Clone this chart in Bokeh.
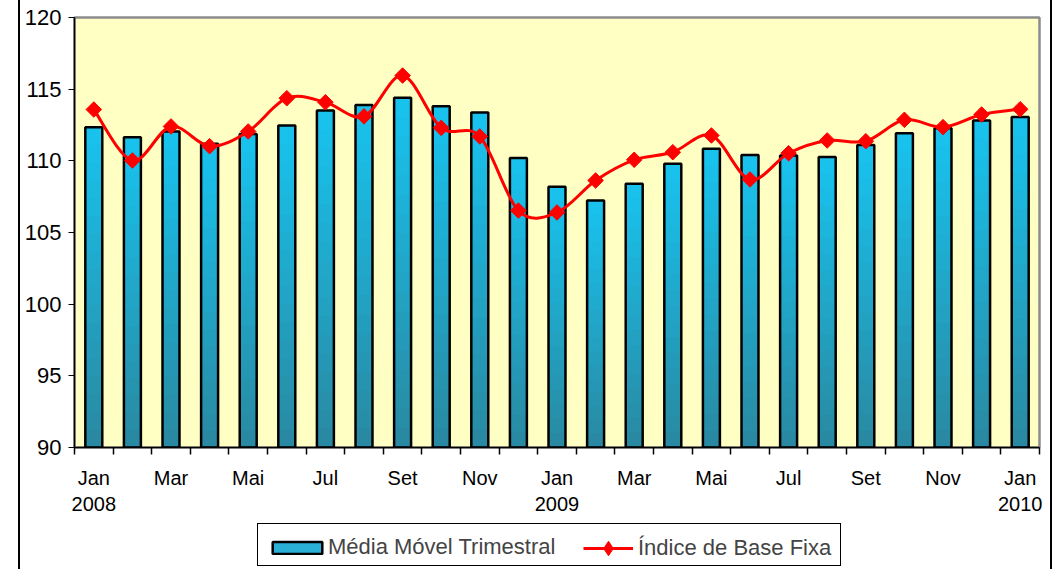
import numpy as np
from bokeh.plotting import figure
from bokeh.layouts import column
from bokeh.models import Range1d, FixedTicker, Legend, LegendItem
from bokeh.embed import file_html
from bokeh.resources import INLINE

# ---- data ----
months = ["Jan", "Fev", "Mar", "Abr", "Mai", "Jun", "Jul", "Ago", "Set", "Out", "Nov", "Dez",
          "Jan", "Fev", "Mar", "Abr", "Mai", "Jun", "Jul", "Ago", "Set", "Out", "Nov", "Dez",
          "Jan"]
media_movel = [112.35, 111.65, 112.05, 111.19, 111.88, 112.47, 113.51, 113.9, 114.4, 113.8,
               113.37, 110.2, 108.2, 107.23, 108.4, 109.79, 110.84, 110.4, 110.37, 110.26,
               111.1, 111.93, 112.28, 112.81, 113.05]
indice_base = [113.58, 110.02, 112.4, 111.02, 112.05, 114.37, 114.09, 113.1, 115.95, 112.3,
               111.7, 106.53, 106.4, 108.63, 110.07, 110.6, 111.77, 108.7, 110.53, 111.42,
               111.37, 112.86, 112.35, 113.23, 113.6]
tick_labels = ["Jan\n2008", "Mar", "Mai", "Jul", "Set", "Nov", "Jan\n2009", "Mar", "Mai",
               "Jul", "Set", "Nov", "Jan\n2010"]
y_ticks = [90, 95, 100, 105, 110, 115, 120]
series_names = ["Média Móvel Trimestral", "Índice de Base Fixa"]

n = len(months)
xc = np.arange(n) + 0.5
BASE = 90
FONT = "Liberation Sans"
BAR_W = 0.44
RED = "#FF0000"

W = 1058
H1, H2 = 520, 49
outer_lines = ("linear-gradient(#000,#000) 18px 0 / 2px 100% no-repeat, "
               "linear-gradient(#000,#000) 1050px 0 / 2px 100% no-repeat")
legend_box = ("linear-gradient(#000,#000) 257px 3px / 584px 1px no-repeat, "
              "linear-gradient(#000,#000) 257px 45px / 584px 1px no-repeat, "
              "linear-gradient(#000,#000) 257px 3px / 1px 43px no-repeat, "
              "linear-gradient(#000,#000) 840px 3px / 1px 43px no-repeat")

p = figure(width=W, height=H1, output_backend="svg", toolbar_location=None,
           x_range=Range1d(0, n), y_range=Range1d(90, 120),
           min_border_left=74, min_border_right=19, min_border_top=17,
           min_border_bottom=H1 - 447)
p.background_fill_color = "#FFFFC4"
p.border_fill_alpha = 0
p.styles = {"background": outer_lines + ", #ffffff"}
p.outline_line_color = "#8C8C8C"
p.outline_line_width = 2.5
p.xgrid.visible = False
p.ygrid.visible = False

# ---- bars with vertical gradient (overlapping segments, no seams) ----
nseg = 18
c_bot = np.array([0x2A, 0x88, 0xA0])
c_top = np.array([0x18, 0xC4, 0xF0])
L, R, B, T, C = [], [], [], [], []
for k in range(nseg):
    f = (k + 0.5) / nseg
    col = "#%02x%02x%02x" % tuple((c_bot + (c_top - c_bot) * f).astype(int))
    for i in range(n):
        h = media_movel[i] - BASE
        L.append(xc[i] - BAR_W / 2)
        R.append(xc[i] + BAR_W / 2)
        B.append(BASE + h * k / nseg)
        T.append(media_movel[i])
        C.append(col)
p.quad(left=L, right=R, bottom=B, top=T, fill_color=C, line_color=None)
p.vbar(x=xc, top=media_movel, bottom=BASE, width=BAR_W, fill_color=None,
       line_color="black", line_width=2.5)

# ---- smoothed line (Bezier segments through the data points) ----
yv = np.array(indice_base)
ext = np.concatenate([[yv[0]], yv, [yv[-1]]])
xext = np.concatenate([[xc[0]], xc, [xc[-1]]])
x0, y0 = xc[:-1], yv[:-1]
x1, y1 = xc[1:], yv[1:]
cx0 = x0 + (xext[2:-1] - xext[:-3]) / 6.0
cy0 = y0 + (ext[2:-1] - ext[:-3]) / 6.0
cx1 = x1 - (xext[3:] - xext[1:-2]) / 6.0
cy1 = y1 - (ext[3:] - ext[1:-2]) / 6.0
p.bezier(x0=x0, y0=y0, x1=x1, y1=y1, cx0=cx0, cy0=cy0, cx1=cx1, cy1=cy1,
         line_color=RED, line_width=3)
p.scatter(x=xc, y=indice_base, marker="square", size=11, angle=np.pi / 4,
          fill_color=RED, line_color=RED)

# ---- axes ----
p.yaxis.ticker = FixedTicker(ticks=y_ticks)
p.yaxis.major_tick_out = 6
p.yaxis.major_tick_in = 0
p.yaxis.minor_tick_out = 0
p.yaxis.minor_tick_in = 0
p.yaxis.major_label_text_font = FONT
p.yaxis.major_label_text_font_size = "22px"
p.yaxis.major_label_text_color = "black"
p.yaxis.major_label_standoff = 7
p.yaxis.axis_line_color = "black"
p.yaxis.axis_line_width = 1.5
p.yaxis.major_tick_line_color = "black"

label_pos = [float(xc[i]) for i in range(0, n, 2)]
p.xaxis.ticker = FixedTicker(ticks=label_pos, minor_ticks=list(range(0, n + 1)))
p.xaxis.major_label_overrides = {pos: lab for pos, lab in zip(label_pos, tick_labels)}
p.xaxis.major_tick_out = 0
p.xaxis.major_tick_in = 0
p.xaxis.minor_tick_out = 7
p.xaxis.minor_tick_in = 0
p.xaxis.minor_tick_line_color = "black"
p.xaxis.minor_tick_line_width = 1.5
p.xaxis.axis_line_color = "black"
p.xaxis.axis_line_width = 1.5
p.xaxis.major_label_text_font = FONT
p.xaxis.major_label_text_font_size = "20px"
p.xaxis.major_label_text_color = "black"
p.xaxis.major_label_standoff = 12

# ---- legend strip ----
lg = figure(width=W, height=H2, output_backend="svg", toolbar_location=None,
            x_axis_location=None, y_axis_location=None,
            x_range=Range1d(0, 1), y_range=Range1d(0, 1),
            min_border_left=74, min_border_right=19, min_border_top=0,
            min_border_bottom=0)
lg.background_fill_alpha = 0
lg.border_fill_alpha = 0
lg.styles = {"background": legend_box + ", " + outer_lines + ", #ffffff"}
lg.outline_line_color = None
lg.xgrid.visible = False
lg.ygrid.visible = False

# proxies drawn from the data, which lies outside this strip's ranges (not visible)
bar_proxy = lg.quad(left=xc - BAR_W / 2, right=xc + BAR_W / 2, bottom=BASE, top=media_movel,
                    fill_color="#2AAFD6", line_color="black", line_width=2.5)
line_proxy = lg.line(x=xc, y=indice_base, line_color=RED, line_width=3)
pts_proxy = lg.scatter(x=xc, y=indice_base, marker="diamond",
                       fill_color=RED, line_color=RED)

common = dict(orientation="horizontal", label_text_font=FONT, label_text_font_size="22px",
              padding=0, margin=0, border_line_color=None, background_fill_alpha=0)
leg1 = Legend(items=[LegendItem(label=series_names[0], renderers=[bar_proxy])],
              location=(192, 9), glyph_width=62, glyph_height=15, label_standoff=0,
              **common)
leg2 = Legend(items=[LegendItem(label=series_names[1], renderers=[line_proxy, pts_proxy])],
              location=(509, 3), glyph_width=50, glyph_height=36, label_standoff=5,
              **common)
lg.add_layout(leg1, "center")
lg.add_layout(leg2, "center")

layout = column(p, lg, spacing=0)
open("out.html", "w").write(file_html(layout, INLINE))
